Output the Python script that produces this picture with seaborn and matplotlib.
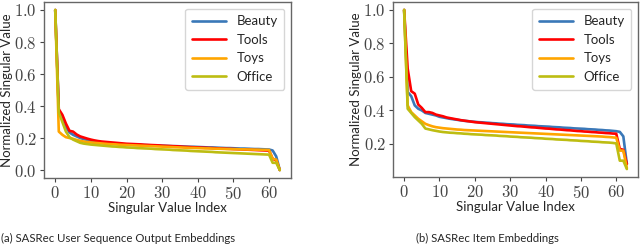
import pandas as pd
import matplotlib
matplotlib.use("Agg")
import matplotlib.pyplot as plt
from matplotlib.ticker import FuncFormatter, MultipleLocator
import seaborn as sns

# Normalized singular values (index 0..63)
datasets = ["Beauty", "Tools", "Toys", "Office"]

user_beauty = [1.0, 0.37, 0.33, 0.27, 0.235, 0.22, 0.21, 0.20, 0.193, 0.188, 0.183,
               0.179, 0.176, 0.173, 0.171, 0.169, 0.167, 0.165, 0.163, 0.161, 0.160,
               0.159, 0.158, 0.157, 0.157, 0.156, 0.155, 0.154, 0.153, 0.153, 0.152,
               0.151, 0.150, 0.149, 0.149, 0.148, 0.147, 0.146, 0.145, 0.145, 0.144,
               0.143, 0.142, 0.141, 0.141, 0.140, 0.139, 0.138, 0.137, 0.137, 0.136,
               0.135, 0.134, 0.134, 0.133, 0.132, 0.131, 0.131, 0.130, 0.129, 0.128,
               0.122, 0.085, 0.0]
user_tools = [1.0, 0.38, 0.345, 0.29, 0.245, 0.24, 0.222, 0.21, 0.203, 0.196, 0.19,
              0.185, 0.181, 0.178, 0.176, 0.174, 0.172, 0.170, 0.168, 0.166, 0.164,
              0.163, 0.162, 0.161, 0.160, 0.158, 0.157, 0.156, 0.155, 0.154, 0.152,
              0.151, 0.150, 0.149, 0.148, 0.147, 0.145, 0.144, 0.143, 0.142, 0.141,
              0.140, 0.139, 0.138, 0.137, 0.136, 0.135, 0.134, 0.133, 0.132, 0.131,
              0.130, 0.129, 0.128, 0.127, 0.126, 0.125, 0.124, 0.123, 0.122, 0.121,
              0.07, 0.06, 0.0]
user_toys = [1.0, 0.24, 0.22, 0.205, 0.20, 0.195, 0.188, 0.182, 0.178, 0.175, 0.172,
             0.170, 0.168, 0.166, 0.164, 0.162, 0.161, 0.160, 0.158, 0.157, 0.156,
             0.155, 0.154, 0.153, 0.152, 0.151, 0.150, 0.149, 0.148, 0.147, 0.146,
             0.145, 0.144, 0.143, 0.142, 0.141, 0.140, 0.139, 0.138, 0.138, 0.137,
             0.136, 0.135, 0.135, 0.134, 0.133, 0.133, 0.132, 0.131, 0.131, 0.130,
             0.130, 0.129, 0.129, 0.128, 0.128, 0.127, 0.127, 0.126, 0.126, 0.125,
             0.07, 0.065, 0.0]
user_office = [1.0, 0.36, 0.30, 0.24, 0.205, 0.19, 0.18, 0.17, 0.165, 0.162, 0.159,
               0.157, 0.155, 0.153, 0.151, 0.149, 0.147, 0.146, 0.144, 0.143, 0.141,
               0.140, 0.139, 0.137, 0.136, 0.135, 0.134, 0.133, 0.131, 0.130, 0.129,
               0.128, 0.127, 0.125, 0.124, 0.123, 0.122, 0.121, 0.119, 0.118, 0.117,
               0.116, 0.115, 0.114, 0.113, 0.111, 0.110, 0.109, 0.108, 0.107, 0.106,
               0.105, 0.104, 0.103, 0.102, 0.101, 0.100, 0.099, 0.098, 0.097, 0.096,
               0.045, 0.045, 0.0]

item_beauty = [1.0, 0.51, 0.485, 0.43, 0.41, 0.40, 0.385, 0.38, 0.375, 0.37, 0.362,
               0.358, 0.354, 0.350, 0.347, 0.344, 0.341, 0.338, 0.336, 0.334, 0.332,
               0.330, 0.329, 0.327, 0.326, 0.324, 0.323, 0.321, 0.320, 0.318, 0.317,
               0.316, 0.314, 0.313, 0.312, 0.310, 0.309, 0.308, 0.306, 0.305, 0.304,
               0.303, 0.301, 0.300, 0.299, 0.297, 0.296, 0.295, 0.293, 0.292, 0.291,
               0.290, 0.288, 0.287, 0.286, 0.284, 0.283, 0.281, 0.280, 0.278, 0.276,
               0.272, 0.245, 0.08]
item_tools = [1.0, 0.65, 0.515, 0.50, 0.435, 0.415, 0.39, 0.39, 0.385, 0.375, 0.37,
              0.365, 0.358, 0.354, 0.350, 0.346, 0.342, 0.339, 0.336, 0.333, 0.330,
              0.328, 0.326, 0.324, 0.322, 0.320, 0.318, 0.316, 0.314, 0.312, 0.310,
              0.308, 0.306, 0.305, 0.303, 0.301, 0.299, 0.298, 0.296, 0.294, 0.292,
              0.291, 0.289, 0.287, 0.286, 0.284, 0.282, 0.281, 0.279, 0.277, 0.276,
              0.274, 0.273, 0.271, 0.270, 0.268, 0.267, 0.265, 0.264, 0.262, 0.261,
              0.17, 0.165, 0.08]
item_toys = [1.0, 0.43, 0.39, 0.37, 0.35, 0.335, 0.32, 0.312, 0.305, 0.30, 0.297,
             0.294, 0.292, 0.290, 0.288, 0.286, 0.285, 0.283, 0.282, 0.281, 0.280,
             0.279, 0.278, 0.277, 0.276, 0.275, 0.274, 0.273, 0.272, 0.271, 0.270,
             0.269, 0.268, 0.267, 0.266, 0.265, 0.264, 0.263, 0.262, 0.261, 0.260,
             0.259, 0.258, 0.257, 0.256, 0.255, 0.254, 0.253, 0.252, 0.251, 0.250,
             0.249, 0.248, 0.247, 0.246, 0.245, 0.244, 0.242, 0.241, 0.239, 0.237,
             0.16, 0.16, 0.055]
item_office = [1.0, 0.41, 0.385, 0.36, 0.34, 0.32, 0.292, 0.287, 0.282, 0.278, 0.274,
               0.271, 0.269, 0.267, 0.266, 0.264, 0.263, 0.261, 0.260, 0.258, 0.257,
               0.256, 0.255, 0.253, 0.252, 0.251, 0.250, 0.248, 0.247, 0.246, 0.244,
               0.243, 0.242, 0.240, 0.239, 0.238, 0.237, 0.235, 0.234, 0.233, 0.231,
               0.230, 0.229, 0.227, 0.226, 0.225, 0.224, 0.222, 0.221, 0.220, 0.218,
               0.217, 0.216, 0.214, 0.213, 0.212, 0.210, 0.209, 0.208, 0.206, 0.203,
               0.10, 0.10, 0.05]

captions = ["(a) SASRec User Sequence Output Embeddings", "(b) SASRec Item Embeddings"]
palette = {"Beauty": "#3a78b8", "Tools": "#ff0000", "Toys": "#ffa500", "Office": "#bdbd12"}


def to_long(series):
    rows = []
    for name, vals in zip(datasets, series):
        for i, v in enumerate(vals):
            rows.append({"index": i, "value": v, "dataset": name})
    return pd.DataFrame(rows)


panels = [to_long([user_beauty, user_tools, user_toys, user_office]),
          to_long([item_beauty, item_tools, item_toys, item_office])]

sns.set_style("ticks")
plt.rcParams["font.family"] = ["Lato", "DejaVu Sans"]
plt.rcParams["mathtext.fontset"] = "cm"

fig = plt.figure(figsize=(6.4, 2.47), dpi=100)
W, H = 640, 247
boxes = [(44, 2, 247, 176), (393, 2, 245, 175)]
caption_x = [1, 416]

for df, (x0, y0, w, h), cap, cx in zip(panels, boxes, captions, caption_x):
    ax = fig.add_axes([x0 / W, 1 - (y0 + h) / H, w / W, h / H])
    sns.lineplot(data=df, x="index", y="value", hue="dataset", palette=palette,
                 linewidth=1.9, ax=ax)
    ax.xaxis.set_major_locator(MultipleLocator(10))
    ax.yaxis.set_major_locator(MultipleLocator(0.2))
    ax.xaxis.set_major_formatter(FuncFormatter(lambda v, p: f"${v:g}$"))
    ax.yaxis.set_major_formatter(FuncFormatter(lambda v, p: f"${v:.1f}$"))
    ax.tick_params(labelsize=12, colors="#444444", length=3, width=0.8, pad=2)
    ax.set_xlabel("Singular Value Index", fontsize=9.5, labelpad=0)
    ax.set_ylabel("Normalized Singular Value", fontsize=9.5, labelpad=1)
    for s in ax.spines.values():
        s.set_color("#666666")
        s.set_linewidth(1.0)
    sns.move_legend(ax, "upper right", title=None, fontsize=9.5, handlelength=2.6,
                    frameon=True, borderpad=0.5, labelspacing=0.5)
    ax.get_legend().get_frame().set_edgecolor("#cccccc")
    fig.text(cx / W, 1 - 238 / H, cap, ha="left", va="center", fontsize=8.2)

fig.savefig("out.png", dpi=100)
